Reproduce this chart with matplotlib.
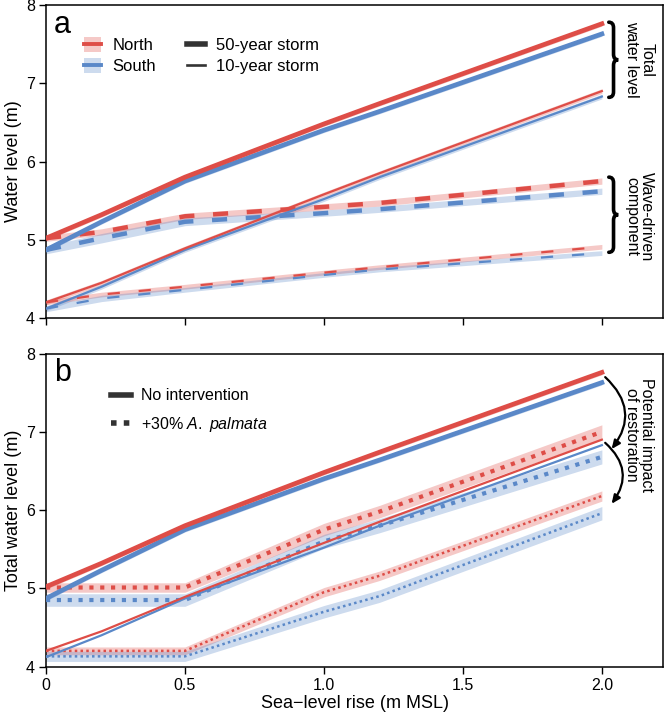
import numpy as np
from matplotlib import pyplot as plt
from matplotlib.lines import Line2D
from matplotlib.patches import Patch, PathPatch
from matplotlib.path import Path

plt.rcParams["font.family"] = ["Liberation Sans", "DejaVu Sans"]
plt.rcParams["mathtext.fontset"] = "custom"
plt.rcParams["mathtext.rm"] = "Liberation Sans"
plt.rcParams["mathtext.it"] = "Liberation Sans:italic"

RED = "#DE4D47"
BLUE = "#5A88C8"
DARK = "#333333"

# sea-level rise (m MSL)
slr = [0.0, 0.2, 0.5, 1.0, 1.2, 2.0]

# panel a: total water level
total_50_north = [5.02, 5.32, 5.80, 6.48, 6.74, 7.76]
total_50_south = [4.87, 5.23, 5.75, 6.40, 6.64, 7.63]
total_10_north = [4.20, 4.45, 4.89, 5.58, 5.85, 6.90]
total_10_south = [4.12, 4.40, 4.87, 5.52, 5.80, 6.83]
# panel a: wave-driven component
wave_50_north = [5.02, 5.10, 5.30, 5.42, 5.47, 5.75]
wave_50_south = [4.87, 5.02, 5.23, 5.34, 5.39, 5.62]
wave_10_north = [4.20, 4.30, 4.40, 4.58, 4.65, 4.91]
wave_10_south = [4.12, 4.25, 4.36, 4.55, 4.62, 4.83]
# uncertainty half-widths
wave_50_north_sd = [0.04, 0.04, 0.04, 0.04, 0.04, 0.04]
wave_50_south_sd = [0.05, 0.06, 0.05, 0.04, 0.04, 0.04]
wave_10_north_sd = [0.03, 0.03, 0.03, 0.03, 0.03, 0.03]
wave_10_south_sd = [0.04, 0.04, 0.03, 0.03, 0.03, 0.03]
total_sd = [0.03, 0.03, 0.03, 0.03, 0.03, 0.03]

# panel b: +30% A. palmata
resto_50_north = [5.01, 5.01, 5.01, 5.75, 5.98, 7.00]
resto_50_south = [4.85, 4.85, 4.85, 5.60, 5.80, 6.68]
resto_10_north = [4.20, 4.20, 4.20, 4.95, 5.16, 6.18]
resto_10_south = [4.13, 4.13, 4.13, 4.70, 4.90, 5.96]
resto_50_north_sd = [0.06, 0.06, 0.06, 0.08, 0.08, 0.09]
resto_50_south_sd = [0.08, 0.08, 0.08, 0.09, 0.09, 0.09]
resto_10_north_sd = [0.05, 0.05, 0.05, 0.06, 0.06, 0.065]
resto_10_south_sd = [0.065, 0.065, 0.065, 0.08, 0.08, 0.085]

x = np.array(slr)

fig = plt.figure(figsize=(6.64, 7.14), dpi=100)
ax_a = fig.add_axes([0.0693, 0.5546, 0.9292, 0.4384])
ax_b = fig.add_axes([0.0693, 0.0665, 0.9292, 0.4382])


def band(ax, y, sd, color):
    y = np.array(y)
    sd = np.array(sd)
    ax.fill_between(x, y - sd, y + sd, color=color, alpha=0.3, lw=0, zorder=1)


def brace(ax, x0, y_top, y_bot, w=0.034, r=0.07):
    xm = x0 + w / 2
    ymid = (y_top + y_bot) / 2
    verts = [(x0, y_top), (xm, y_top), (xm, y_top - r),
             (xm, ymid + r), (xm, ymid), (x0 + w, ymid),
             (xm, ymid), (xm, ymid - r),
             (xm, y_bot + r), (xm, y_bot), (x0, y_bot)]
    codes = [Path.MOVETO, Path.CURVE3, Path.CURVE3,
             Path.LINETO, Path.CURVE3, Path.CURVE3,
             Path.CURVE3, Path.CURVE3,
             Path.LINETO, Path.CURVE3, Path.CURVE3]
    ax.add_patch(PathPatch(Path(verts, codes), fill=False, lw=2.6,
                           color="black", capstyle="round", zorder=5))


def style_axes(ax, ylabel):
    ax.set_xlim(0, 2.22)
    ax.set_ylim(4, 8)
    ax.set_xticks([0, 0.5, 1.0, 1.5, 2.0])
    ax.set_xticklabels(["0", "0.5", "1.0", "1.5", "2.0"])
    ax.set_yticks([4, 5, 6, 7, 8])
    ax.tick_params(direction="out", length=5, width=1, labelsize=11.5, pad=3)
    for s in ax.spines.values():
        s.set_linewidth(1.1)
    ax.set_ylabel(ylabel, fontsize=13, labelpad=3)


# ---- panel a ----
ax = ax_a
band(ax, total_50_north, total_sd, RED)
band(ax, total_50_south, total_sd, BLUE)
band(ax, total_10_north, total_sd, RED)
band(ax, total_10_south, total_sd, BLUE)
band(ax, wave_50_north, wave_50_north_sd, RED)
band(ax, wave_50_south, wave_50_south_sd, BLUE)
band(ax, wave_10_north, wave_10_north_sd, RED)
band(ax, wave_10_south, wave_10_south_sd, BLUE)

ax.plot(x, wave_50_south, color=BLUE, lw=3.2, dashes=(3.4, 4.2), zorder=3)
ax.plot(x, wave_50_north, color=RED, lw=3.2, dashes=(3.4, 4.2), zorder=3)
ax.plot(x, wave_10_south, color=BLUE, lw=1.6, dashes=(5.5, 8.5), zorder=3)
ax.plot(x, wave_10_north, color=RED, lw=1.6, dashes=(5.5, 8.5), zorder=3)
ax.plot(x, total_10_south, color=BLUE, lw=1.6, zorder=4)
ax.plot(x, total_10_north, color=RED, lw=1.6, zorder=4)
ax.plot(x, total_50_south, color=BLUE, lw=3.4, zorder=4)
ax.plot(x, total_50_north, color=RED, lw=3.4, zorder=4)

style_axes(ax, "Water level (m)")
ax.tick_params(labelbottom=False)
ax.text(0.013, 0.985, "a", transform=ax.transAxes, fontsize=22, va="top", ha="left")

handles = [
    (Patch(facecolor=RED, alpha=0.3, lw=0), Line2D([], [], color=RED, lw=2.8)),
    (Patch(facecolor=BLUE, alpha=0.3, lw=0), Line2D([], [], color=BLUE, lw=2.8)),
    Line2D([], [], color=DARK, lw=4.0),
    Line2D([], [], color=DARK, lw=1.9),
]
labels = ["North", "South", "50-year storm", "10-year storm"]
ax.legend(handles, labels, ncol=2, loc="upper left", bbox_to_anchor=(0.037, 0.945),
          frameon=False, fontsize=12, handlelength=1.05, handleheight=0.95,
          handletextpad=0.65, columnspacing=1.9, labelspacing=0.32)

brace(ax, 2.025, 7.78, 6.82)
brace(ax, 2.025, 5.80, 4.84)
ax.text(2.135, 7.30, "Total\nwater level", rotation=-90, ha="center", va="center",
        fontsize=11.5, linespacing=1.0)
ax.text(2.135, 5.30, "Wave-driven\ncomponent", rotation=-90, ha="center", va="center",
        fontsize=11.5, linespacing=1.0)

# ---- panel b ----
ax = ax_b
band(ax, resto_50_north, resto_50_north_sd, RED)
band(ax, resto_50_south, resto_50_south_sd, BLUE)
band(ax, resto_10_north, resto_10_north_sd, RED)
band(ax, resto_10_south, resto_10_south_sd, BLUE)
band(ax, total_50_north, total_sd, RED)
band(ax, total_50_south, total_sd, BLUE)

ax.plot(x, resto_50_south, color=BLUE, lw=3.0, dashes=(1, 1.6), dash_capstyle="butt", zorder=3)
ax.plot(x, resto_50_north, color=RED, lw=3.0, dashes=(1, 1.6), dash_capstyle="butt", zorder=3)
ax.plot(x, resto_10_south, color=BLUE, lw=1.8, dashes=(1, 1.3), dash_capstyle="butt", zorder=3)
ax.plot(x, resto_10_north, color=RED, lw=1.8, dashes=(1, 1.3), dash_capstyle="butt", zorder=3)
ax.plot(x, total_10_south, color=BLUE, lw=1.6, zorder=4)
ax.plot(x, total_10_north, color=RED, lw=1.6, zorder=4)
ax.plot(x, total_50_south, color=BLUE, lw=3.4, zorder=4)
ax.plot(x, total_50_north, color=RED, lw=3.4, zorder=4)

style_axes(ax, "Total water level (m)")
ax.set_xlabel("Sea\u2212level rise (m MSL)", fontsize=13, labelpad=2)
ax.text(0.013, 0.985, "b", transform=ax.transAxes, fontsize=22, va="top", ha="left")

handles_b = [
    Line2D([], [], color=DARK, lw=4.0),
    Line2D([], [], color=DARK, lw=4.0, dashes=(1, 1.3), dash_capstyle="butt"),
]
labels_b = ["No intervention", "+30% $\\mathit{A.}$ $\\mathit{palmata}$"]
ax.legend(handles_b, labels_b, loc="upper left", bbox_to_anchor=(0.082, 0.935),
          frameon=False, fontsize=11.5, handlelength=1.25, handletextpad=0.6,
          labelspacing=0.72)

arrow = dict(arrowstyle="-|>,head_length=0.5,head_width=0.22", color="black", lw=1.6,
             shrinkA=0, shrinkB=0, connectionstyle="arc3,rad=-0.45")
ax.annotate("", xy=(2.035, 6.78), xytext=(2.012, 7.70), arrowprops=arrow)
ax.annotate("", xy=(2.035, 6.08), xytext=(2.012, 6.86), arrowprops=arrow)
ax.text(2.135, 6.96, "Potential impact\nof restoration", rotation=-90, ha="center",
        va="center", fontsize=11.5, linespacing=1.0)

fig.savefig("out.png", dpi=100)
